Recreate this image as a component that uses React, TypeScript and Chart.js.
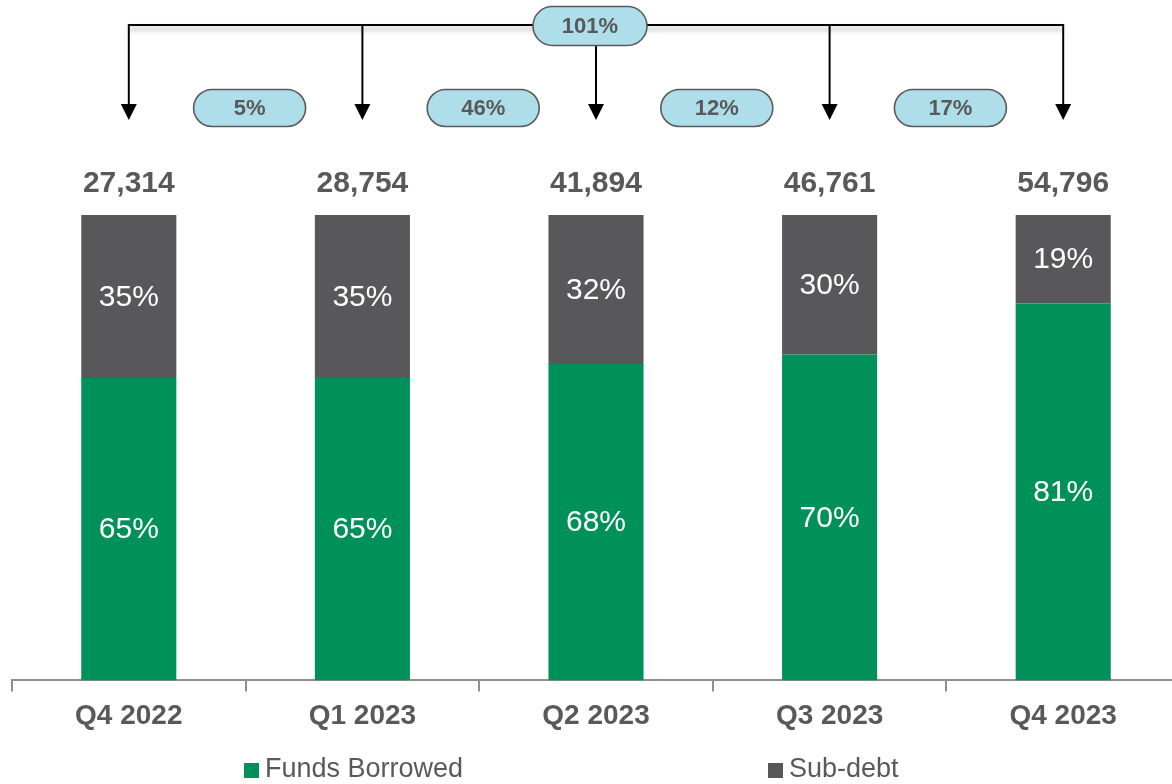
import React, { useEffect, useRef } from "react";
import { Chart, registerables } from "chart.js";

Chart.register(...registerables);

const categories = ["Q4 2022", "Q1 2023", "Q2 2023", "Q3 2023", "Q4 2023"];
const fundsBorrowedPct = [65, 65, 68, 70, 81];
const subDebtPct = [35, 35, 32, 30, 19];
const totals = ["27,314", "28,754", "41,894", "46,761", "54,796"];
const growthQoQ = ["5%", "46%", "12%", "17%"];
const growthTotal = "101%";

const GREEN = "#00915A";
const GRAY = "#58585A";
const TEXT = "#595959";
const FONT = "'Liberation Sans', Arial, sans-serif";

function pill(ctx: CanvasRenderingContext2D, cx: number, cy: number, w: number, h: number, text: string) {
  const r = h / 2;
  const x = cx - w / 2;
  const y = cy - h / 2;
  ctx.save();
  ctx.beginPath();
  ctx.moveTo(x + r, y);
  ctx.lineTo(x + w - r, y);
  ctx.arc(x + w - r, cy, r, -Math.PI / 2, Math.PI / 2);
  ctx.lineTo(x + r, y + h);
  ctx.arc(x + r, cy, r, Math.PI / 2, (3 * Math.PI) / 2);
  ctx.closePath();
  ctx.fillStyle = "#AEDEEA";
  ctx.fill();
  ctx.lineWidth = 1.6;
  ctx.strokeStyle = "#5a5a5a";
  ctx.stroke();
  ctx.fillStyle = TEXT;
  ctx.font = `bold 22px ${FONT}`;
  ctx.textAlign = "center";
  ctx.textBaseline = "middle";
  ctx.fillText(text, cx, cy + 1);
  ctx.restore();
}

const overlayPlugin = {
  id: "overlay",
  afterDatasetsDraw(chart: any) {
    const ctx: CanvasRenderingContext2D = chart.ctx;
    const metaG = chart.getDatasetMeta(0);
    const metaS = chart.getDatasetMeta(1);
    // segment labels
    ctx.save();
    ctx.font = `30px ${FONT}`;
    ctx.fillStyle = "#ffffff";
    ctx.textAlign = "center";
    ctx.textBaseline = "middle";
    [metaG, metaS].forEach((meta: any, di: number) => {
      const vals = di === 0 ? fundsBorrowedPct : subDebtPct;
      meta.data.forEach((bar: any, i: number) => {
        const cy = (bar.y + bar.base) / 2;
        ctx.fillText(vals[i] + "%", bar.x, cy + 1);
      });
    });
    // totals
    ctx.font = `bold 30px ${FONT}`;
    ctx.fillStyle = TEXT;
    metaS.data.forEach((bar: any, i: number) => {
      ctx.fillText(totals[i], bar.x, bar.y - 31);
    });
    ctx.restore();

    // arrows
    const xs = metaS.data.map((b: any) => b.x);
    const lineY = 25;
    const headTop = 104;
    const headTip = 120;
    ctx.save();
    ctx.strokeStyle = "#000";
    ctx.lineWidth = 2;
    ctx.shadowColor = "rgba(0,0,0,0.35)";
    ctx.shadowBlur = 5;
    ctx.shadowOffsetY = 4;
    ctx.beginPath();
    ctx.moveTo(xs[0], lineY);
    ctx.lineTo(xs[xs.length - 1], lineY);
    ctx.stroke();
    ctx.restore();
    ctx.save();
    ctx.strokeStyle = "#000";
    ctx.fillStyle = "#000";
    ctx.lineWidth = 2;
    xs.forEach((x: number) => {
      ctx.beginPath();
      ctx.moveTo(x, lineY - 1);
      ctx.lineTo(x, headTop);
      ctx.stroke();
      ctx.beginPath();
      ctx.moveTo(x - 8, headTop);
      ctx.lineTo(x + 8, headTop);
      ctx.lineTo(x, headTip);
      ctx.closePath();
      ctx.fill();
    });
    ctx.restore();

    // pills
    growthQoQ.forEach((g, i) => {
      const cx = (xs[i] + xs[i + 1]) / 2 + 4;
      pill(ctx, cx, 108, 112, 37, g);
    });
    pill(ctx, xs[2] - 6, 26, 114, 39, growthTotal);

    // legend
    const items = [
      { label: chart.data.datasets[0].label, color: GREEN, x: 244 },
      { label: chart.data.datasets[1].label, color: GRAY, x: 768 },
    ];
    ctx.save();
    ctx.font = `27px ${FONT}`;
    ctx.textBaseline = "middle";
    ctx.textAlign = "left";
    items.forEach((it) => {
      ctx.fillStyle = it.color;
      ctx.fillRect(it.x, 763, 15, 15);
      ctx.fillStyle = TEXT;
      ctx.fillText(it.label, it.x + 21, 770);
    });
    ctx.restore();
  },
};

export default function App() {
  const ref = useRef<HTMLCanvasElement | null>(null);
  useEffect(() => {
    if (!ref.current) return;
    const chart = new Chart(ref.current, {
      type: "bar",
      data: {
        labels: categories,
        datasets: [
          { label: "Funds Borrowed", data: fundsBorrowedPct, backgroundColor: GREEN, borderWidth: 0 },
          { label: "Sub-debt", data: subDebtPct, backgroundColor: GRAY, borderWidth: 0 },
        ],
      },
      options: {
        responsive: false,
        animation: false,
        devicePixelRatio: 1,
        layout: { padding: { left: 12, right: 10, top: 215, bottom: 43 } },
        datasets: { bar: { barPercentage: 0.407, categoryPercentage: 1 } },
        plugins: { legend: { display: false }, tooltip: { enabled: false } },
        scales: {
          x: {
            stacked: true,
            border: { display: true, color: "#8f8f8f", width: 2 },
            grid: {
              offset: true,
              drawOnChartArea: false,
              drawTicks: true,
              tickLength: 11,
              color: "#8f8f8f",
              lineWidth: 2,
            },
            ticks: {
              color: TEXT,
              font: { family: FONT, size: 28, weight: "bold" },
              padding: 8,
            },
          },
          y: { stacked: true, display: false, min: 0, max: 100 },
        },
      },
      plugins: [overlayPlugin],
    });
    return () => chart.destroy();
  }, []);
  return (
    <div style={{ position: "fixed", left: 0, top: 0, width: 1172, height: 784, overflow: "hidden", background: "#fff" }}>
      <canvas ref={ref} width={1190} height={784} style={{ display: "block" }} />
    </div>
  );
}
